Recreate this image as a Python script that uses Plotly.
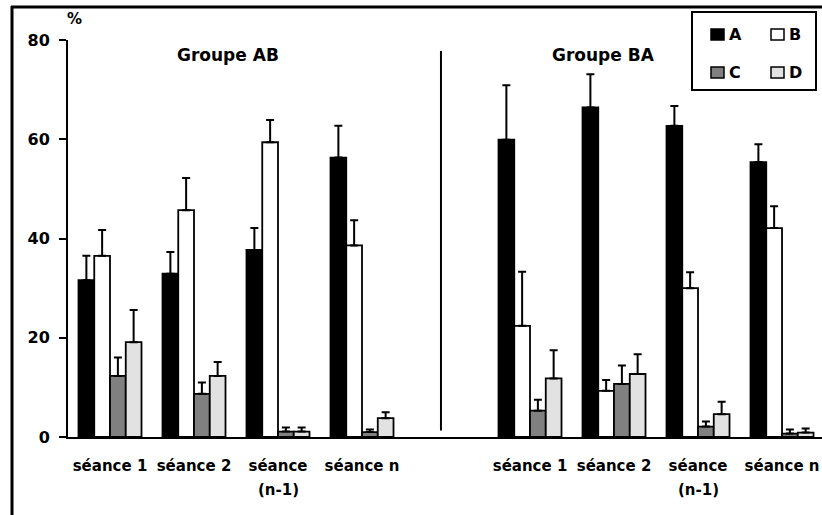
import plotly.graph_objects as go

# Sessions for each group (a blank slot separates the two groups)
sessions = ["séance 1", "séance 2", "séance<br>(n-1)", "séance n"]
groups = ["Groupe AB", "Groupe BA"]
x_ab = [0, 1, 2, 3]
x_ba = [5, 6, 7, 8]

series = ["A", "B", "C", "D"]
colors = ["#000000", "#ffffff", "#808080", "#e2e2e2"]

# Mean percentages per series, groupe AB then groupe BA
a_ab = [31.6, 32.9, 37.7, 56.3]
b_ab = [36.5, 45.7, 59.4, 38.6]
c_ab = [12.3, 8.7, 1.1, 1.0]
d_ab = [19.1, 12.3, 1.1, 3.8]

a_ba = [59.9, 66.4, 62.7, 55.4]
b_ba = [22.4, 9.3, 30.0, 42.1]
c_ba = [5.3, 10.7, 2.1, 0.7]
d_ba = [11.8, 12.7, 4.6, 0.9]

# Upper error (standard error) per bar
a_ab_err = [4.9, 4.4, 4.4, 6.4]
b_ab_err = [5.2, 6.5, 4.5, 5.1]
c_ab_err = [3.7, 2.3, 0.8, 0.5]
d_ab_err = [6.5, 2.8, 0.8, 1.2]

a_ba_err = [11.0, 6.7, 4.0, 3.6]
b_ba_err = [10.9, 2.2, 3.2, 4.4]
c_ba_err = [2.2, 3.7, 1.0, 0.8]
d_ba_err = [5.7, 4.0, 2.5, 0.8]

y_ticks = [0, 20, 40, 60, 80]

values = [a_ab + a_ba, b_ab + b_ba, c_ab + c_ba, d_ab + d_ba]
errors = [a_ab_err + a_ba_err, b_ab_err + b_ba_err,
          c_ab_err + c_ba_err, d_ab_err + d_ba_err]
xs = x_ab + x_ba

FONT = "DejaVu Sans"
W, H = 822, 515
L, R, T, B = 68, 0, 40, 77.5
PW, PH = W - L - R, H - T - B


def px(xp):
    return (xp - L) / PW


def py(yp):
    return (H - B - yp) / PH


fig = go.Figure()
for name, col, vals, errs in zip(series, colors, values, errors):
    fig.add_trace(go.Bar(
        name=name, x=xs, y=vals,
        marker=dict(color=col, line=dict(color="black", width=1.8)),
        error_y=dict(type="data", symmetric=False, array=errs,
                     arrayminus=[0] * len(errs), color="black",
                     thickness=2, width=4),
        showlegend=False,
    ))

# session labels: first line on the axis, second line as annotation
first_lines = [s.split("<br>")[0] for s in sessions]
tickvals = xs
ticktext = first_lines + first_lines

annotations = []
for xv_list in (x_ab, x_ba):
    for xv, s in zip(xv_list, sessions):
        parts = s.split("<br>")
        if len(parts) > 1:
            annotations.append(dict(
                x=xv, xref="x", y=py(491), yref="paper", text=parts[1],
                showarrow=False, xanchor="center", yanchor="middle",
                font=dict(family=FONT, size=15, color="black", weight="bold")))

# group titles
for g, xc in zip(groups, (1.405, 5.87)):
    annotations.append(dict(
        x=xc, xref="x", y=77.0, yref="y", text=g, showarrow=False,
        xanchor="center", yanchor="middle",
        font=dict(family=FONT, size=17, color="black", weight="bold")))

# unit label
annotations.append(dict(
    x=px(74), xref="paper", y=py(19), yref="paper", text="%", showarrow=False,
    xanchor="center", yanchor="middle",
    font=dict(family=FONT, size=15, color="black", weight="bold")))

shapes = []
# outer frame (top and left edges)
shapes.append(dict(type="line", xref="paper", yref="paper",
                   x0=px(11), x1=px(830), y0=py(7), y1=py(7),
                   line=dict(color="black", width=3)))
shapes.append(dict(type="line", xref="paper", yref="paper",
                   x0=px(12), x1=px(12), y0=py(6), y1=py(520),
                   line=dict(color="black", width=3)))
# separator between groups
shapes.append(dict(type="line", xref="x", yref="y",
                   x0=3.94, x1=3.94, y0=1.3, y1=77.8,
                   line=dict(color="black", width=2)))

# legend box drawn as a 2x2 grid
shapes.append(dict(type="rect", xref="paper", yref="paper",
                   x0=px(692), x1=px(816), y0=py(90), y1=py(12),
                   line=dict(color="black", width=2), fillcolor="white"))
legend_pos = [(711, 34.5), (771, 34.5), (711, 72.5), (771, 72.5)]
for name, col, (lx, ly) in zip(series, colors, legend_pos):
    shapes.append(dict(type="rect", xref="paper", yref="paper",
                       x0=px(lx), x1=px(lx + 13), y0=py(ly + 5.5),
                       y1=py(ly - 5.5), fillcolor=col,
                       line=dict(color="black", width=1.5)))
    annotations.append(dict(
        x=px(lx + 16), xref="paper", y=py(ly), yref="paper", text=name,
        showarrow=False, xanchor="left", yanchor="middle",
        font=dict(family=FONT, size=16, color="black", weight="bold")))

fig.update_layout(
    width=W, height=H,
    margin=dict(l=L, r=R, t=T, b=B, pad=0),
    paper_bgcolor="white", plot_bgcolor="white",
    barmode="group", bargap=0.25, bargroupgap=0,
    showlegend=False,
    shapes=shapes, annotations=annotations,
    font=dict(family=FONT, color="black"),
    xaxis=dict(range=[-0.5, 8.476], tickvals=tickvals, ticktext=ticktext,
               showgrid=False, zeroline=False, showline=True,
               linecolor="black", linewidth=2, ticks="",
               ticklabelstandoff=14,
               tickfont=dict(family=FONT, size=15, color="black",
                             weight="bold")),
    yaxis=dict(range=[0, 80], tickvals=y_ticks, showgrid=False,
               zeroline=False, showline=True, linecolor="black",
               linewidth=2, ticks="outside", ticklen=7, tickwidth=2,
               tickcolor="black", ticklabelstandoff=6,
               tickfont=dict(family=FONT, size=16, color="black",
                             weight="bold")),
)

fig.write_html("out.html")
